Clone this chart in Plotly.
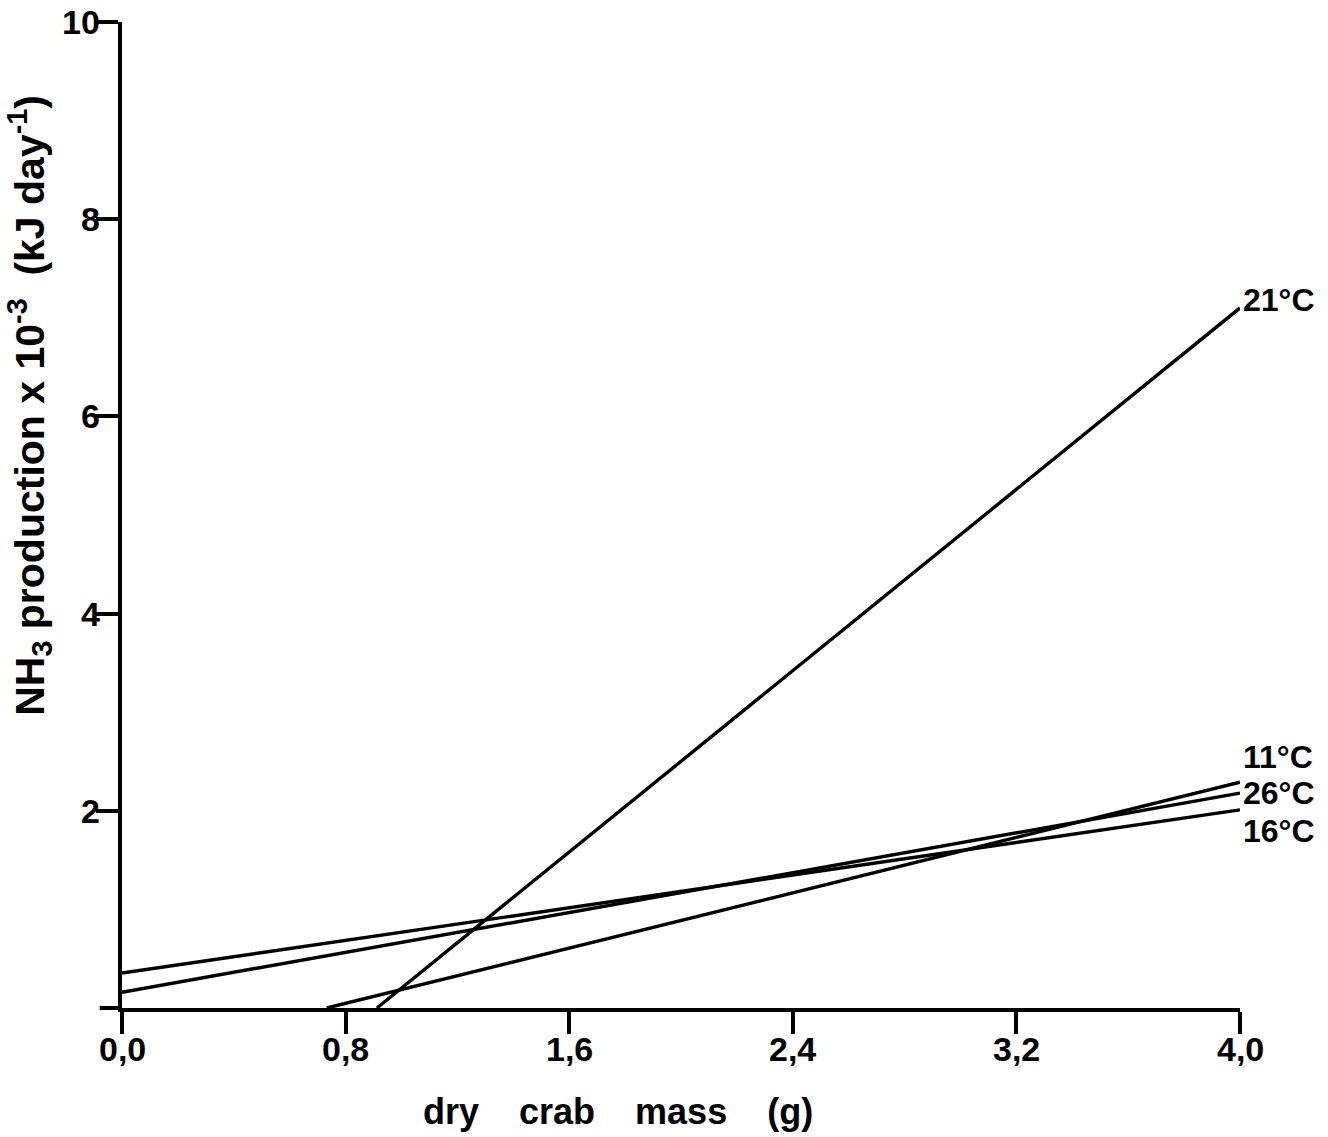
import plotly.graph_objects as go

# Regression lines of NH3 production against dry crab mass, per temperature
series_names = ["21°C", "11°C", "26°C", "16°C"]
x_start = [0.912, 0.733, 0.0, 0.0]
y_start = [0.0, 0.0, 0.16, 0.355]
x_end = [4.0, 4.0, 4.0, 4.0]
y_end = [7.1, 2.29, 2.18, 2.01]
label_shift = [8, 25, 0, -21]

x_ticks = [0.0, 0.8, 1.6, 2.4, 3.2, 4.0]
x_tick_text = ["0,0", "0,8", "1,6", "2,4", "3,2", "4,0"]
y_ticks = [2, 4, 6, 8, 10]
y_tick_text = ["2", "4", "6", "8", "10"]

narrow = "Liberation Sans Narrow, Arial Narrow, Liberation Sans, Arial"
wide = "Liberation Sans, Arial, Helvetica"
tick_font = dict(family=narrow, size=34, color="black")

fig = go.Figure()
for name, x0, y0, x1, y1 in zip(series_names, x_start, y_start, x_end, y_end):
    fig.add_trace(go.Scatter(
        x=[x0, x1], y=[y0, y1], mode="lines", name=name,
        line=dict(color="black", width=3.4), showlegend=False,
        hoverinfo="skip",
    ))

for name, x1, y1, dy in zip(series_names, x_end, y_end, label_shift):
    fig.add_annotation(
        x=x1, y=y1, text="<b>" + name + "</b>", showarrow=False,
        xanchor="left", yanchor="middle", xshift=1, yshift=dy,
        font=dict(family=narrow, size=32, color="black"),
    )

# tick labels set close under / beside the tick marks
for xv, txt in zip(x_ticks, x_tick_text):
    fig.add_annotation(
        x=xv, xref="x", y=0, yref="paper", text="<b>" + txt + "</b>",
        showarrow=False, xanchor="center", yanchor="top", yshift=-20,
        font=tick_font,
    )
for yv, txt in zip(y_ticks, y_tick_text):
    fig.add_annotation(
        x=0, xref="paper", y=yv, yref="y", text="<b>" + txt + "</b>",
        showarrow=False, xanchor="right", yanchor="middle", xshift=-20,
        font=tick_font,
    )

# short stub of the x axis to the left of the y axis
fig.add_shape(
    type="line", xref="paper", yref="paper", x0=-0.02, x1=0, y0=0, y1=0,
    line=dict(color="black", width=4), layer="above",
)

# Axis titles
fig.add_annotation(
    xref="paper", yref="paper", x=0.444, y=-0.105,
    text="<b>dry&#160;&#160;&#160;&#160;crab&#160;&#160;&#160;&#160;mass&#160;&#160;&#160;&#160;(g)</b>",
    showarrow=False, xanchor="center", yanchor="middle",
    font=dict(family=wide, size=36, color="black"),
)
fig.add_annotation(
    xref="paper", yref="paper", x=-0.083, y=0.611, textangle=-90,
    text="<b>NH<sub>3</sub> production x 10<sup>-3</sup>&#160;&#160;(kJ day<sup>-1</sup>)</b>",
    showarrow=False, xanchor="center", yanchor="middle",
    font=dict(family=wide, size=41, color="black"),
)

fig.update_layout(
    width=1328, height=1137,
    margin=dict(l=122, r=88, t=22, b=129),
    paper_bgcolor="white", plot_bgcolor="white",
    xaxis=dict(
        range=[0, 4.0], tickvals=x_ticks, showticklabels=False,
        showgrid=False, zeroline=False, showline=True, linecolor="black",
        linewidth=4, ticks="outside", ticklen=22, tickwidth=4,
        tickcolor="black",
    ),
    yaxis=dict(
        range=[0, 10], tickvals=y_ticks, showticklabels=False,
        showgrid=False, zeroline=False, showline=True, linecolor="black",
        linewidth=4, ticks="outside", ticklen=22, tickwidth=4,
        tickcolor="black",
    ),
)

fig.write_html("out.html")
